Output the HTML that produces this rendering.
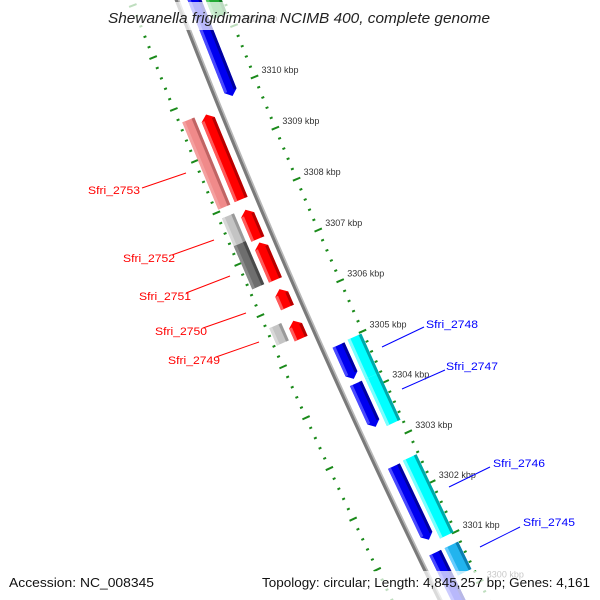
<!DOCTYPE html>
<html><head><meta charset="utf-8"><style>
html,body{margin:0;padding:0;background:#fff;overflow:hidden;}
svg{display:block;font-family:"Liberation Sans",sans-serif;}
</style></head><body>
<svg id="map" width="600" height="600" viewBox="0 0 600 600" xmlns="http://www.w3.org/2000/svg">
<rect width="600" height="600" fill="#fff"/>
<g id="ticks"></g>
<g id="backbone"></g>
<g id="features"></g>
<g id="labels"></g>
<g id="leaders"></g>
<rect x="105" y="2" width="392" height="28" fill="#fff" fill-opacity="0.72"/>
<text x="108" y="23" textLength="382" lengthAdjust="spacingAndGlyphs" font-size="15" font-style="italic" fill="#222">Shewanella frigidimarina NCIMB 400, complete genome</text>
<rect x="4" y="571" width="154" height="29" fill="#fff" fill-opacity="0.72"/>
<rect x="256" y="571" width="342" height="29" fill="#fff" fill-opacity="0.72"/>
<text x="9" y="587" textLength="145" lengthAdjust="spacingAndGlyphs" font-size="13" fill="#111">Accession: NC_008345</text>
<text x="262" y="587" textLength="328" lengthAdjust="spacingAndGlyphs" font-size="13" fill="#111">Topology: circular; Length: 4,845,257 bp; Genes: 4,161</text>
</svg>
<script>
// ---- data ----
const geneStarts = [3308.04, 3308.05, 3307.33, 3306.49, 3307.28, 3306.48, 3305.94, 3305.33, 3305.39, 3299.0, 3309.83, 3304.28, 3303.33, 3301.08, 3299.4, 3304.19, 3303.26, 3301.01, 3300.27, 3311.25];
const geneEnds   = [3309.73, 3309.70, 3307.87, 3307.33, 3307.85, 3307.21, 3306.30, 3305.68, 3305.73, 3300.12, 3311.8, 3304.95, 3304.19, 3302.55, 3300.82, 3304.97, 3304.19, 3302.57, 3300.82, 3312.0];
const geneTracks = ["outer","red","outer","outer","red","red","red","red","outer","red","blue","blue","blue","blue","blue","cyan","cyan","cyan","cyan","cyan"];
const geneColors = ["pink","red","grey","dgrey","red","red","red","red","grey","red","blue","blue","blue","blue","blue","cyan","cyan","cyan","sky","green"];
const geneArrows = [0,1,0,0,1,1,1,1,0,1,-1,-1,-1,-1,-1,0,0,0,0,0];
const tickLabelKbp = [3300,3301,3302,3303,3304,3305,3306,3307,3308,3309,3310,3311];
const geneLabelNames = ["Sfri_2753","Sfri_2752","Sfri_2751","Sfri_2750","Sfri_2749","Sfri_2748","Sfri_2747","Sfri_2746","Sfri_2745"];

// ---- geometry ----
const CX = 7222, CY = -2731;
const DEG_PER_KBP = 0.4215, REF_K = 3310, REF_ANG = 158.05;
const R_BACK = 7556, R_RIGHT = 7512, R_LEFT = 7599;
const TRACKS = {outer:[7583,7596], red:[7564,7578], blue:[7533,7546], cyan:[7514,7529]};
const PAL = {
  pink:["#f08a8a","#f4a0a0","#c06464"], red:["#ff0000","#ff5a5a","#b80000"],
  grey:["#c4c4c4","#d8d8d8","#9a9a9a"], dgrey:["#6e6e6e","#8a8a8a","#4a4a4a"],
  blue:["#0000f0","#4a4aff","#0000a0"], cyan:["#00ffff","#7affff","#00a8a8"],
  sky:["#22b4ee","#66ccff","#0a7fb0"], green:["#22aa33","#55cc66","#117722"]
};
function ang(k){ return (REF_ANG - (REF_K - k) * DEG_PER_KBP) * Math.PI / 180; }
function pt(k, r){ const a = ang(k); return [CX + r*Math.cos(a), CY + r*Math.sin(a)]; }
function ps(arr){ return arr.map(p => p[0].toFixed(2)+","+p[1].toFixed(2)).join(" "); }
const NS = "http://www.w3.org/2000/svg";
function mk(tag, attrs, parent){ const e = document.createElementNS(NS, tag); for (const k in attrs) e.setAttribute(k, attrs[k]); parent.appendChild(e); return e; }

// ticks
const gT = document.getElementById("ticks");
for (let i = 0; i <= 80; i++) {
  const k = 3297 + i * 0.2;
  const major = Math.abs(k - Math.round(k)) < 0.01;
  [R_RIGHT, R_LEFT].forEach(r => {
    const a = pt(k, r - (major ? 4 : 1.5)), b = pt(k, r + (major ? 4 : 1.5));
    const l = mk("line", {x1:a[0], y1:a[1], x2:b[0], y2:b[1], stroke:"#1a8a1a", "stroke-width":2}, gT);
    
    
  });
}
// backbone
const gB = document.getElementById("backbone");
{
  const pts1 = [], pts2 = [];
  for (let k = 3296; k <= 3314; k += 0.25) { pts1.push(pt(k, R_BACK + 0.5)); pts2.push(pt(k, R_BACK - 1.8)); }
  const b1 = mk("polyline", {points:ps(pts1), fill:"none", stroke:"#7a7a7a", "stroke-width":3.2}, gB);
  
  
  const b2 = mk("polyline", {points:ps(pts2), fill:"none", stroke:"#b8b8b8", "stroke-width":1.6}, gB);
  
  
}
// features
const gF = document.getElementById("features");
for (let i = 0; i < geneStarts.length; i++) {
  const [rIn, rOut] = TRACKS[geneTracks[i]];
  const rMid = (rIn + rOut) / 2;
  const k1 = geneStarts[i], k2 = geneEnds[i], dir = geneArrows[i];
  const head = 0.1;
  const pal = PAL[geneColors[i]];
  let poly, b1 = k1, b2 = k2;
  if (dir === 1) { b2 = k2 - head; poly = [pt(k1,rIn), pt(b2,rIn), pt(k2,rMid), pt(b2,rOut), pt(k1,rOut)]; }
  else if (dir === -1) { b1 = k1 + head; poly = [pt(b1,rIn), pt(k2,rIn), pt(k2,rOut), pt(b1,rOut), pt(k1,rMid)]; }
  else { poly = [pt(k1,rIn), pt(k2,rIn), pt(k2,rOut), pt(k1,rOut)]; }
  const g = mk("g", {}, gF);
  
  
  mk("polygon", {points:ps(poly), fill:pal[0]}, g);
  mk("polygon", {points:ps([pt(b1,rOut-3), pt(b2,rOut-3), pt(b2,rOut), pt(b1,rOut)]), fill:pal[1]}, g);
  mk("polygon", {points:ps([pt(b1,rIn), pt(b2,rIn), pt(b2,rIn+3), pt(b1,rIn+3)]), fill:pal[2]}, g);
}
// tick labels
const gL = document.getElementById("labels");
tickLabelKbp.forEach(k => {
  const p = pt(k, R_RIGHT);
  const t = mk("text", {x:(p[0]+7).toFixed(1), y:(p[1]-4).toFixed(1), "font-size":9, fill:"#333"}, gL);
  t.textContent = k + " kbp";
  
  
});
// gene labels with leader lines
const gN = document.getElementById("leaders");
const lblX = [88,123,139,155,168,426,446,493,523];
const lblY = [194,262,300,335,364,328,370,467,526];
const lineA = [[142,188],[172,255],[186,293],[203,328],[216,357],[424,327],[445,370],[490,467],[520,527]];
const lineB = [[186,173],[214,240],[230,276],[246,313],[259,342],[382,347],[402,389],[449,487],[480,547]];
geneLabelNames.forEach((n, i) => {
  const left = i < 5, col = left ? "#ff0000" : "#0000ff";
  const l = mk("line", {x1:lineA[i][0], y1:lineA[i][1], x2:lineB[i][0], y2:lineB[i][1], stroke:col, "stroke-width":1}, gN);
  
  
  const t = mk("text", {x:lblX[i], y:lblY[i], "font-size":11, fill:col, textLength:52, lengthAdjust:"spacingAndGlyphs"}, gN);
  t.textContent = n;
  
  
});
</script>
</body></html>
